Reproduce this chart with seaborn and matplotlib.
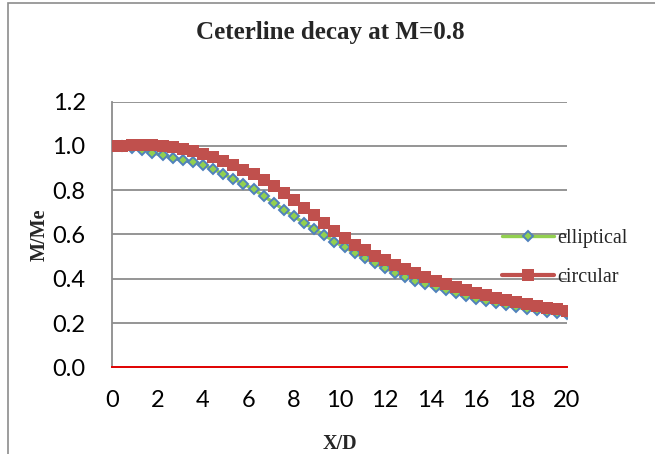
import matplotlib
matplotlib.use("Agg")
import matplotlib.pyplot as plt
from matplotlib.patches import Rectangle
import seaborn as sns
import pandas as pd

# Axial stations X/D along the jet centreline
x_over_d = [0.0, 0.44, 0.89, 1.33, 1.78, 2.22, 2.67, 3.11, 3.56, 4.0,
            4.44, 4.89, 5.33, 5.78, 6.22, 6.67, 7.11, 7.56, 8.0, 8.44,
            8.89, 9.33, 9.78, 10.22, 10.67, 11.11, 11.56, 12.0, 12.44, 12.89,
            13.33, 13.78, 14.22, 14.67, 15.11, 15.56, 16.0, 16.44, 16.89, 17.33,
            17.78, 18.22, 18.67, 19.11, 19.56, 20.0]

# Centreline Mach number ratio M/Me, elliptical nozzle
elliptical = [1.0, 1.0, 0.992, 0.982, 0.970, 0.957, 0.946, 0.935, 0.926, 0.914,
              0.896, 0.873, 0.851, 0.829, 0.805, 0.773, 0.744, 0.711, 0.682, 0.652,
              0.624, 0.598, 0.568, 0.542, 0.518, 0.493, 0.470, 0.448, 0.428, 0.410,
              0.392, 0.376, 0.361, 0.347, 0.334, 0.322, 0.310, 0.300, 0.290, 0.281,
              0.272, 0.264, 0.257, 0.250, 0.244, 0.239]

# Centreline Mach number ratio M/Me, circular nozzle
circular = [1.0, 1.0, 1.005, 1.005, 1.005, 1.0, 0.995, 0.985, 0.975, 0.962,
            0.948, 0.930, 0.912, 0.893, 0.872, 0.848, 0.820, 0.788, 0.755, 0.720,
            0.686, 0.652, 0.615, 0.582, 0.553, 0.528, 0.505, 0.484, 0.463, 0.444,
            0.426, 0.408, 0.392, 0.377, 0.362, 0.349, 0.337, 0.325, 0.314, 0.304,
            0.294, 0.285, 0.277, 0.269, 0.262, 0.256]

x_ticks = [0, 2, 4, 6, 8, 10, 12, 14, 16, 18, 20]
y_ticks = [0.0, 0.2, 0.4, 0.6, 0.8, 1.0, 1.2]

sns.set_theme(style="white")
plt.rcParams["font.family"] = ["Lato", "DejaVu Sans"]

df = pd.DataFrame({"x": x_over_d, "elliptical": elliptical, "circular": circular})

fig = plt.figure(figsize=(6.55, 4.54), dpi=100)
ax = fig.add_axes([112 / 655, 1 - 367.3 / 454, (567 - 112) / 655, (367.3 - 101.7) / 454])

# chart-area frame
fig.patches.append(Rectangle((8 / 655, -0.1), 1.2, 1.1 - 3 / 454, transform=fig.transFigure,
                             fill=False, edgecolor="#8c8c8c", linewidth=1.2, zorder=0))

grid_col = "#8c8c8c"
for yv in y_ticks[1:]:
    ax.axhline(yv, color=grid_col, linewidth=1.3, zorder=1)

sns.lineplot(data=df, x="x", y="elliptical", ax=ax, color="#92D050", linewidth=2.4,
             marker="D", markersize=5.6, markerfacecolor="#92D050",
             markeredgecolor="#4F81BD", markeredgewidth=1.4, label="elliptical", zorder=3)
sns.lineplot(data=df, x="x", y="circular", ax=ax, color="#C0504D", linewidth=3.0,
             marker="s", markersize=8.3, markerfacecolor="#C0504D",
             markeredgecolor="#C0504D", markeredgewidth=0, label="circular", zorder=4)

ax.set_xlim(0, 20)
ax.set_ylim(0, 1.2)
ax.set_xticks(x_ticks)
ax.set_yticks(y_ticks)
ax.set_yticklabels([f"{v:.1f}" for v in y_ticks])
ax.tick_params(axis="both", labelsize=17, length=0, colors="black")
ax.tick_params(axis="y", pad=19)
ax.tick_params(axis="x", pad=16)

for side in ["top", "right"]:
    ax.spines[side].set_visible(False)
ax.spines["left"].set_color(grid_col)
ax.spines["left"].set_linewidth(1.3)
ax.spines["bottom"].set_color("#E00000")
ax.spines["bottom"].set_linewidth(1.4)
ax.spines["bottom"].set_zorder(5)

serif = ["Liberation Serif", "DejaVu Serif"]
fig.text(0.5036, 1 - 32 / 454, "Ceterline decay at M=0.8", ha="center", va="center",
         fontsize=18, fontweight="bold", family=serif)
ax.set_xlabel("X/D", fontsize=14.5, fontweight="bold", family=serif, labelpad=17)
ax.set_ylabel("M/Me", fontsize=14.5, fontweight="bold", family=serif, labelpad=2)

leg = ax.legend(loc="center left", bbox_to_anchor=(502 / 655, 1 - 258 / 454),
                bbox_transform=fig.transFigure, frameon=False, handlelength=2.6,
                handletextpad=0.15, labelspacing=0.95, borderpad=0, borderaxespad=0,
                prop={"family": serif, "size": 14.5})

fig.savefig("out.png", dpi=100)
